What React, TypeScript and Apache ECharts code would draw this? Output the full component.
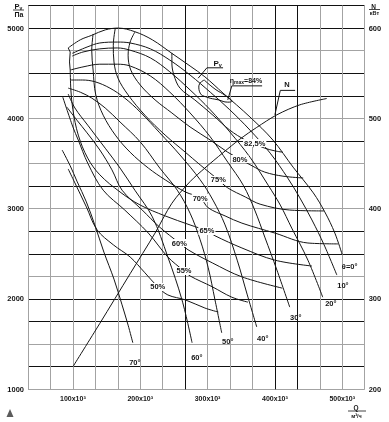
import React, { useEffect, useRef } from 'react';
import * as echarts from 'echarts';

// Q in 10^3 m3/h, P in Pa, N in kW
const Q_STEP = 100 / 3;
const xTickLabels = [100, 200, 300, 400, 500];
const pTickLabels = [1000, 2000, 3000, 4000, 5000];
const nTickLabels = [200, 300, 400, 500, 600];

// blade angle P-Q curves
const theta0 = [[93,4780],[111,4870],[128,4920],[148,4980],[167,5000],[192,4960],[218,4870],[247,4720],[274,4580],[296,4460],[323,4280],[363,4015],[397,3760],[427,3460],[457,3175],[474,2965],[489,2730],[500,2490]];
const theta10 = [[99,4720],[121,4790],[140,4835],[166,4845],[185,4835],[215,4770],[244,4645],[274,4480],[304,4290],[333,4095],[363,3870],[393,3615],[419,3340],[437,3120],[455,2875],[473,2600],[492,2265]];
const theta20 = [[99,4690],[115,4735],[140,4770],[166,4780],[185,4755],[215,4670],[244,4515],[274,4315],[304,4095],[333,3850],[363,3570],[390,3260],[408,3040],[425,2785],[449,2430],[471,2020]];
const theta30 = [[96,4535],[115,4570],[140,4600],[166,4600],[185,4580],[215,4470],[244,4290],[274,4060],[304,3795],[330,3515],[353,3260],[370,2985],[385,2685],[403,2320],[422,1910]];
const theta40 = [[96,4425],[114,4425],[133,4405],[155,4335],[177,4225],[200,4070],[229,3840],[259,3595],[289,3320],[308,3095],[326,2820],[344,2430],[359,2045],[373,1690]];
const theta50 = [[93,4335],[111,4290],[128,4225],[148,4115],[170,3960],[200,3740],[229,3450],[255,3205],[274,2950],[289,2655],[301,2345],[311,1990],[321,1625]];
const theta60 = [[93,4270],[103,4115],[122,3925],[148,3670],[170,3450],[192,3205],[218,2910],[241,2465],[262,1990],[277,1515]];
const theta70 = [[84,3650],[96,3475],[106,3305],[120,3075],[133,2810],[146,2520],[161,2220],[173,1935],[182,1710],[189,1515]];
const stallLine = [[93,4780],[96,4735],[95,4625],[96,4535]];

// efficiency lines
const eta50 = [[93,3440],[103,3285],[120,3020],[136,2765],[160,2600],[185,2465],[207,2290],[226,2135],[241,2045],[267,1990],[296,1900],[316,1855]];
const eta55 = [[85,4235],[100,3905],[108,3760],[122,3505],[145,3205],[177,2985],[212,2730],[241,2465],[265,2310],[274,2255],[307,2135],[336,2020],[360,1965]];
const eta60 = [[91,4125],[106,3980],[121,3840],[140,3650],[158,3430],[173,3205],[203,2985],[229,2795],[258,2620],[271,2545],[307,2400],[351,2245],[411,2120]];
const eta65 = [[96,4535],[97,4315],[100,4095],[108,3815],[122,3560],[140,3375],[170,3185],[200,3040],[237,2920],[274,2820],[299,2755],[311,2700],[351,2565],[400,2430],[455,2365]];
const eta70 = [[130,4935],[128,4755],[130,4535],[134,4260],[145,4035],[163,3815],[185,3625],[212,3450],[237,3320],[267,3185],[289,3120],[301,3010],[326,2920],[351,2840],[400,2730],[449,2620],[494,2610]];
const eta75 = [[163,5000],[160,4810],[161,4625],[167,4445],[182,4260],[207,4035],[237,3815],[267,3625],[289,3485],[316,3320],[330,3230],[356,3130],[378,3050],[422,2985],[473,2975]];
const eta80 = [[192,4955],[185,4845],[182,4700],[186,4535],[200,4370],[222,4205],[247,4060],[274,3905],[304,3760],[330,3625],[348,3550],[366,3475],[385,3405],[412,3360],[442,3340]];
const eta825 = [[247,4725],[247,4615],[250,4480],[259,4335],[281,4205],[308,4035],[333,3870],[356,3760],[370,3715],[385,3670],[400,3640],[412,3625]];
const etaMaxLoop = [[295,4425],[287,4360],[289,4280],[299,4235],[316,4205],[330,4180],[336,4190],[327,4250],[311,4325],[295,4425]];

// shaft power N (kW)
const nPower = [[100,225],[140,273],[185,328],[222,373],[247,406],[274,430],[296,445],[323,462],[348,477],[373,490],[403,504],[437,515],[477,522]];

// leaders
const pvLeader = [[286,4445],[299,4560],[323,4560]];
const etaLeader = [[330,4205],[336,4360],[381,4360]];
const nLeader = [[400,504],[408,531],[430,531]];

// labels
const thetaNames = ['θ=0°', '10°', '20°', '30°', '40°', '50°', '60°', '70°'];
const thetaLabelPos = [[511,2365],[501,2144],[483,1945],[431,1790],[382,1568],[330,1524],[284,1347],[192,1302]];
const etaNames = ['50%', '55%', '60%', '65%', '70%', '75%', '80%', '82,5%'];
const etaLabelPos = [[226,2133],[265,2310],[258,2620],[299,2753],[289,3118],[316,3318],[348,3550],[370,3727]];
const pvTextPos = [315, 4607];
const etaTextPos = [357, 4414];
const nTextPos = [418, 538];

const FONT = 'Liberation Sans';
const INK = '#151515';

export default function App() {
  const ref = useRef<HTMLDivElement>(null);
  useEffect(() => {
    document.body.style.margin = '0';
    const chart = echarts.init(ref.current!, null, { renderer: 'svg' });
    const G = '#a3a3a3';
    const K = '#111';
    const xColors = Array.from({ length: 16 }, (_, i) => ([7, 11, 12].includes(i) ? K : G));
    const yBlack = new Set([1250, 1750, 2000, 2500, 2750, 3250, 3750, 4250, 4500, 5000, 5250]);
    const yColors = Array.from({ length: 18 }, (_, i) => (yBlack.has(1000 + 250 * i) ? K : G));

    const line = (data: number[][], smooth: number | boolean = 0.35, yAxisIndex = 0) => ({
      type: 'line', data, yAxisIndex, smooth, symbol: 'none', silent: true, z: 3,
      lineStyle: { color: INK, width: 1 },
    });
    const T = (size: number, extra: any = {}) => ({ fill: INK, fontFamily: FONT, fontWeight: 'bold', fontSize: size, ...extra });

    const staticGraphics: any[] = [
      { type: 'text', x: 18.5, y: 6.5, style: { text: '{a|P}{b|v}', align: 'center', verticalAlign: 'middle', rich: { a: T(7.5), b: T(5, { verticalAlign: 'bottom', padding: [3, 0, 0, 0] }) } } },
      { type: 'line', shape: { x1: 13, y1: 10, x2: 24, y2: 10 }, style: { stroke: INK, lineWidth: 0.8 } },
      { type: 'text', x: 19, y: 14.5, style: { text: 'Па', align: 'center', verticalAlign: 'middle', ...T(7) } },
      { type: 'text', x: 373.5, y: 6.5, style: { text: 'N', align: 'center', verticalAlign: 'middle', ...T(6.5) } },
      { type: 'line', shape: { x1: 369, y1: 9.5, x2: 380, y2: 9.5 }, style: { stroke: INK, lineWidth: 0.8 } },
      { type: 'text', x: 374.5, y: 12.8, style: { text: 'кВт', align: 'center', verticalAlign: 'middle', ...T(5.5) } },
      { type: 'text', x: 356, y: 407, style: { text: 'Q', align: 'center', verticalAlign: 'middle', ...T(6.5) } },
      { type: 'line', shape: { x1: 348, y1: 411, x2: 366, y2: 411 }, style: { stroke: INK, lineWidth: 0.8 } },
      { type: 'text', x: 356.5, y: 415.5, style: { text: 'м³/ч', align: 'center', verticalAlign: 'middle', ...T(5.5) } },
      { type: 'polygon', shape: { points: [[6.5, 417], [10, 409], [13.5, 417]] }, style: { fill: '#5b5b5b' } },
    ];

    const option: any = {
      animation: false,
      textStyle: { fontFamily: FONT },
      grid: { left: 28, right: 24.3, top: 5.5, bottom: 32.7, containLabel: false, outerBoundsMode: 'none' },
      xAxis: {
        type: 'value', min: Q_STEP, max: 16 * Q_STEP, interval: Q_STEP,
        axisLine: { show: false }, axisTick: { show: false },
        splitLine: { show: true, lineStyle: { color: xColors, width: 1 } },
        axisLabel: {
          margin: 6, color: INK, fontSize: 7, fontFamily: FONT, fontWeight: 'bold',
          formatter: (v: number) => {
            const r = Math.round(v / 100) * 100;
            return Math.abs(v - r) < 0.5 && xTickLabels.includes(r) ? `${r}x10³` : '';
          },
        },
      },
      yAxis: [
        {
          type: 'value', position: 'left', min: 1000, max: 5250, interval: 250,
          axisLine: { show: false }, axisTick: { show: false },
          splitLine: { show: true, lineStyle: { color: yColors, width: 1 } },
          axisLabel: {
            margin: 4, color: INK, fontSize: 7.5, fontFamily: FONT, fontWeight: 'bold',
            formatter: (v: number) => (pTickLabels.includes(v) ? String(v) : ''),
          },
        },
        {
          type: 'value', position: 'right', min: 200, max: 625, interval: 25,
          axisLine: { show: false }, axisTick: { show: false }, splitLine: { show: false },
          axisLabel: {
            margin: 4, color: INK, fontSize: 7.5, fontFamily: FONT, fontWeight: 'bold',
            formatter: (v: number) => (nTickLabels.includes(v) ? String(v) : ''),
          },
        },
      ],
      series: [
        line(theta0), line(theta10), line(theta20), line(theta30),
        line(theta40), line(theta50), line(theta60), line(theta70),
        line(stallLine, false),
        line(eta50), line(eta55), line(eta60), line(eta65),
        line(eta70), line(eta75), line(eta80), line(eta825),
        line(etaMaxLoop, 0.5),
        line(nPower, 0.3, 1),
        line(pvLeader, false), line(etaLeader, false), line(nLeader, false, 1),
      ],
      graphic: staticGraphics,
    };
    chart.setOption(option);

    // labels placed through the chart's own scales
    const px = (v: number[], yi = 0) => chart.convertToPixel({ xAxisIndex: 0, yAxisIndex: yi }, v) as number[];
    const labelGraphics: any[] = [];
    thetaNames.forEach((t, i) => {
      const p = px(thetaLabelPos[i]);
      labelGraphics.push({ type: 'text', x: p[0], y: p[1], z: 20, style: { text: t, align: 'center', verticalAlign: 'middle', ...T(7.5) } });
    });
    etaNames.forEach((t, i) => {
      const p = px(etaLabelPos[i]);
      labelGraphics.push({ type: 'text', x: p[0], y: p[1], z: 20, style: { text: t, align: 'center', verticalAlign: 'middle', backgroundColor: '#fff', padding: [0, 1, 0, 1], ...T(7.5) } });
    });
    const pv = px(pvTextPos);
    labelGraphics.push({ type: 'text', x: pv[0], y: pv[1], z: 20, style: { text: '{a|P}{b|v}', align: 'center', verticalAlign: 'middle', rich: { a: T(8), b: T(5.5, { verticalAlign: 'bottom', padding: [3, 0, 0, 0] }) } } });
    const et = px(etaTextPos);
    labelGraphics.push({ type: 'text', x: et[0], y: et[1], z: 20, style: { text: '{a|η}{b|max}{a|=84%}', align: 'center', verticalAlign: 'middle', rich: { a: T(7), b: T(5, { verticalAlign: 'bottom', padding: [3, 0, 0, 0] }) } } });
    const nt = px(nTextPos, 1);
    labelGraphics.push({ type: 'text', x: nt[0], y: nt[1], z: 20, style: { text: 'N', align: 'center', verticalAlign: 'middle', ...T(7.5) } });

    chart.setOption({ graphic: [...staticGraphics, ...labelGraphics] });
    return () => chart.dispose();
  }, []);
  return <div ref={ref} style={{ width: 389, height: 422, willChange: 'transform', opacity: 0.999 }} />;
}
